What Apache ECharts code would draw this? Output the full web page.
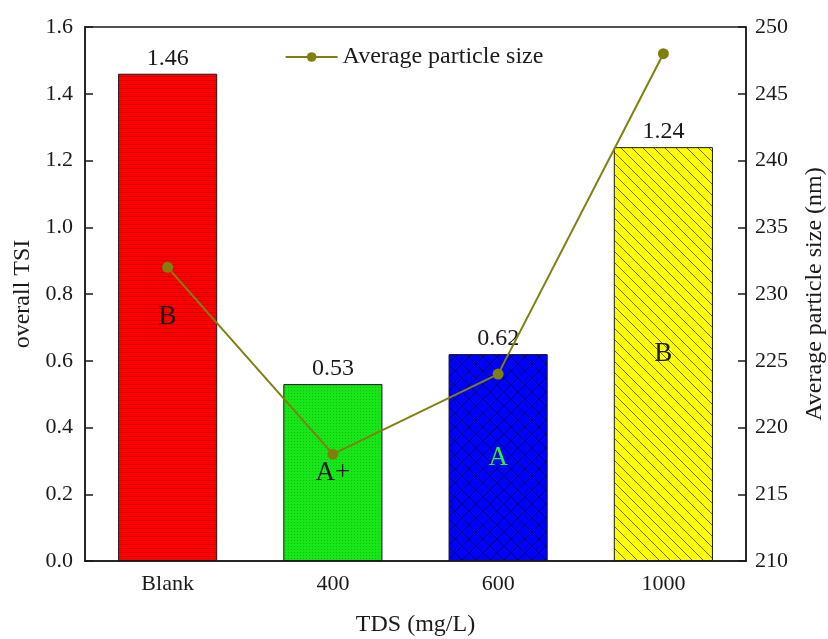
<!DOCTYPE html>
<html>
<head>
<meta charset="utf-8">
<script src="https://cdn.jsdelivr.net/npm/echarts@6/dist/echarts.min.js"></script>
<style>
html, body { margin: 0; padding: 0; background: #fff; }
#main { width: 828px; height: 639px; }
</style>
</head>
<body>
<div id="main"></div>
<script>
var categories = ['Blank', '400', '600', '1000'];
var tsiValues = [1.46, 0.53, 0.62, 1.24];
var grades = ['B', 'A+', 'A', 'B'];
var sizeValues = [232, 218, 224, 248];

var FONT = '"Liberation Serif", "Times New Roman", serif';

// canvas fill patterns, like the hatching of the original plot
function makePattern(size, bg, draw) {
	var c = document.createElement('canvas');
	c.width = size;
	c.height = size;
	var ctx = c.getContext('2d');
	ctx.fillStyle = bg;
	ctx.fillRect(0, 0, size, size);
	draw(ctx, size);
	return { image: c, repeat: 'repeat' };
}

function diag(ctx, s, dir) {
	for (var k = -1; k <= 1; k++) {
		ctx.beginPath();
		if (dir > 0) {
			ctx.moveTo(k * s, 0);
			ctx.lineTo(k * s + s, s);
		} else {
			ctx.moveTo(k * s, s);
			ctx.lineTo(k * s + s, 0);
		}
		ctx.stroke();
	}
}

var redFill = makePattern(4, '#ff0000', function (ctx, s) {
	ctx.fillStyle = 'rgba(150,0,0,0.4)';
	ctx.fillRect(0, 0, s, 1);
});
var greenFill = makePattern(3, '#19e619', function (ctx, s) {
	ctx.fillStyle = 'rgba(0,120,0,0.35)';
	ctx.fillRect(0, 0, 1, 1);
});
var blueFill = makePattern(14, '#0000ff', function (ctx, s) {
	ctx.strokeStyle = 'rgba(0,0,60,0.85)';
	ctx.lineWidth = 0.8;
	diag(ctx, s, 1);
	diag(ctx, s, -1);
});
var yellowFill = makePattern(11, '#ffff00', function (ctx, s) {
	ctx.strokeStyle = 'rgba(60,60,0,0.85)';
	ctx.lineWidth = 0.9;
	diag(ctx, s, 1);
});
var fills = [redFill, greenFill, blueFill, yellowFill];
var gradeColors = ['#1a1a1a', '#1a1a1a', '#33ee33', '#1a1a1a'];

var myChart = echarts.init(document.getElementById('main'));
var option = {
	backgroundColor: '#fff',
	animation: false,
	textStyle: { fontFamily: FONT },
	grid: {
		left: 85,
		right: 82,
		top: 27,
		bottom: 78,
		outerBoundsMode: 'none',
		containLabel: false,
		show: true,
		borderColor: '#1a1a1a',
		borderWidth: 1.5
	},
	legend: {
		data: ['Average particle size'],
		top: 40,
		left: 'center',
		itemWidth: 52,
		itemHeight: 12,
		itemGap: 8,
		textStyle: { fontFamily: FONT, fontSize: 24, color: '#1a1a1a' }
	},
	xAxis: {
		type: 'category',
		data: categories,
		name: 'TDS (mg/L)',
		nameLocation: 'middle',
		nameGap: 52,
		nameTextStyle: { fontFamily: FONT, fontSize: 24, color: '#1a1a1a' },
		axisLine: { lineStyle: { color: '#1a1a1a', width: 1.5 } },
		axisTick: { inside: true, alignWithLabel: true, length: 8, lineStyle: { color: '#1a1a1a', width: 1.5 } },
		axisLabel: { fontFamily: FONT, fontSize: 22, color: '#1a1a1a', margin: 12 }
	},
	yAxis: [{
		type: 'value',
		min: 0,
		max: 1.6,
		interval: 0.2,
		name: 'overall TSI',
		nameLocation: 'middle',
		nameGap: 48,
		nameTextStyle: { fontFamily: FONT, fontSize: 24, color: '#1a1a1a' },
		axisLine: { show: true, lineStyle: { color: '#1a1a1a', width: 1.5 } },
		axisTick: { show: true, inside: true, length: 8, lineStyle: { color: '#1a1a1a', width: 1.5 } },
		axisLabel: {
			fontFamily: FONT, fontSize: 22, color: '#1a1a1a', margin: 12,
			formatter: function (v) { return v.toFixed(1); }
		},
		splitLine: { show: false }
	}, {
		type: 'value',
		min: 210,
		max: 250,
		interval: 5,
		name: 'Average particle size (nm)',
		nameLocation: 'middle',
		nameGap: 57,
		nameTextStyle: { fontFamily: FONT, fontSize: 24, color: '#1a1a1a' },
		axisLine: { show: true, lineStyle: { color: '#1a1a1a', width: 1.5 } },
		axisTick: { show: true, inside: true, length: 8, lineStyle: { color: '#1a1a1a', width: 1.5 } },
		axisLabel: { fontFamily: FONT, fontSize: 22, color: '#1a1a1a', margin: 9 },
		splitLine: { show: false }
	}],
	series: [{
		name: 'TSI',
		type: 'bar',
		barWidth: '60%',
		data: tsiValues.map(function (v, i) {
			return { value: v, itemStyle: { color: fills[i] } };
		}),
		itemStyle: { borderColor: '#1a1a1a', borderWidth: 1 },
		label: {
			show: true,
			position: 'top',
			distance: 3,
			fontFamily: FONT,
			fontSize: 24,
			color: '#1a1a1a',
			formatter: function (p) { return p.value.toFixed(2); }
		},
		z: 2
	}, {
		name: 'grade',
		type: 'bar',
		barWidth: '60%',
		barGap: '-100%',
		data: tsiValues.map(function (v, i) {
			return {
				value: v,
				label: { formatter: grades[i], color: gradeColors[i] }
			};
		}),
		itemStyle: { color: 'rgba(0,0,0,0)' },
		label: {
			show: true,
			position: 'inside',
			fontFamily: FONT,
			fontSize: 27
		},
		silent: true,
		z: 3
	}, {
		name: 'Average particle size',
		type: 'line',
		yAxisIndex: 1,
		data: sizeValues,
		symbol: 'circle',
		symbolSize: 11,
		lineStyle: { color: '#808010', width: 2 },
		itemStyle: { color: '#808010' },
		z: 5
	}]
};
myChart.setOption(option);
</script>
</body>
</html>
